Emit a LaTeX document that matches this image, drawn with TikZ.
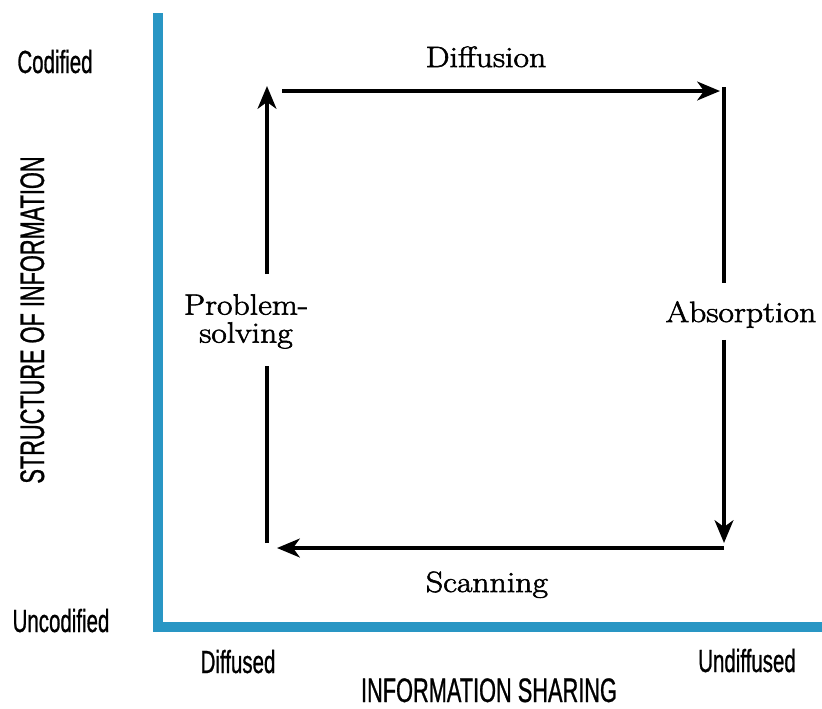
\documentclass[tikz,border=0pt]{standalone}
\usepackage{fontspec}
\usepackage{xcolor}
\usetikzlibrary{
  arrows.meta,
  calc
}
\newfontfamily\axisfont[FakeStretch=0.64, FakeBold=0.8]{Liberation Sans}
\newfontfamily\flowfont[FakeStretch=1.15, FakeBold=2]{Latin Modern Roman}
\definecolor{axisblue}{RGB}{41,150,196}

\begin{document}
\begin{tikzpicture}[
  x=0.75pt, y=-0.75pt,
  axis/.style={draw=axisblue, line width=7.5pt, line join=miter},
  arrow/.style={line width=3pt, -{Stealth[length=17pt, width=14pt, inset=5pt]}},
  segment/.style={line width=3pt},
  flow/.style={font=\flowfont\fontsize{22pt}{21pt}\selectfont, inner sep=0pt},
  axislabel/.style={font=\axisfont\fontsize{24pt}{26pt}\selectfont, inner sep=0pt},
  axistitle/.style={font=\axisfont\fontsize{25.5pt}{27pt}\selectfont, inner sep=0pt}
]
\useasboundingbox (0,0) rectangle (822,708);

% Axes
\coordinate (origin) at (158,627);
\coordinate (ytop) at (158,13);
\coordinate (xend) at (822,627);
\draw[axis] (ytop) -- (origin) -- (xend);

% Axis labels
\node[axislabel, anchor=base] (codified) at (55,73) {Codified};
\node[axislabel, anchor=base] (uncodified) at (61,632) {Uncodified};
\node[axislabel, anchor=base] (diffused) at (238,673) {Diffused};
\node[axislabel, anchor=base] (undiffused) at (747,672) {Undiffused};
\node[axistitle, anchor=base] (sharing) at (489,702) {INFORMATION SHARING};
\node[axistitle, anchor=base, rotate=90] (structure) at (44,320) {STRUCTURE OF INFORMATION};

% Cycle corners
\coordinate (nw) at (267,91);
\coordinate (ne) at (724,91);
\coordinate (se) at (724,548);
\coordinate (sw) at (267,548);

% Cycle labels
\node[flow, anchor=base] (diffusion) at (486,67) {Diffusion};
\node[flow, anchor=base] (absorb) at (741,322) {Absorption};
\node[flow, anchor=base] (scanning) at (487,592) {Scanning};
\node[flow, anchor=north, align=center] (solve) at (246,294) {Problem-\\solving};

% Arrows of the cycle
\draw[arrow, shorten <=11.25pt, shorten >=3pt] (nw) -- (ne);
\draw[segment, shorten <=-3pt, shorten >=13.5pt] (ne) -- (ne |- absorb.north);
\draw[arrow, shorten <=9pt, shorten >=3.75pt] (ne |- absorb.south) -- (se);
\draw[arrow, shorten >=7.5pt] (se) -- (sw);
\draw[segment, shorten <=3.75pt, shorten >=13pt] (sw) -- (sw |- solve.south);
\draw[arrow, shorten <=15pt, shorten >=-3.75pt] (sw |- solve.north) -- (nw);

\end{tikzpicture}
\end{document}
